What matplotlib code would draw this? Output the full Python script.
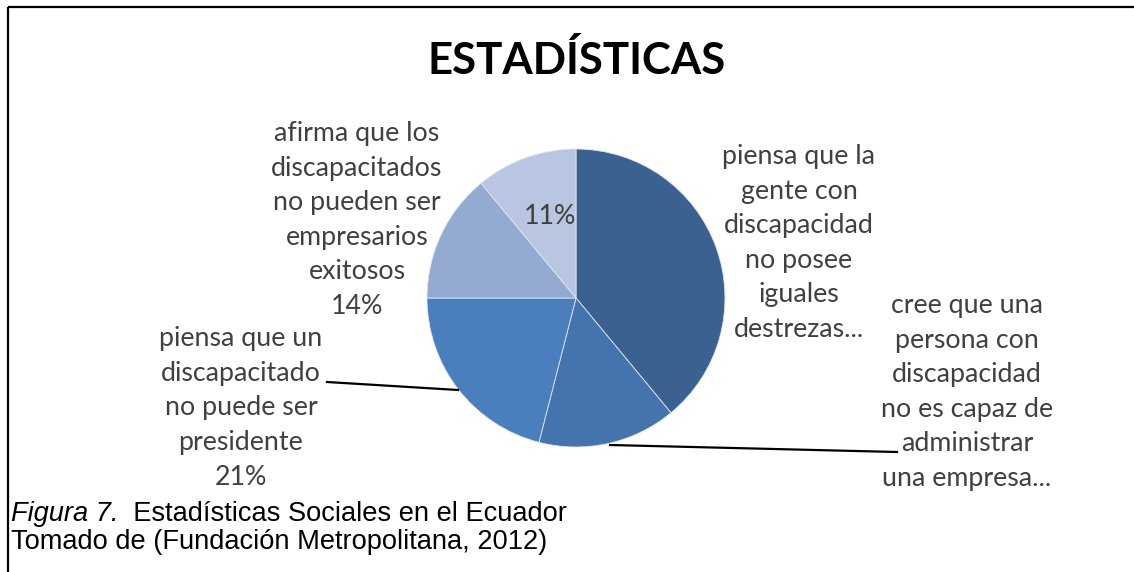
import numpy as np
import matplotlib
matplotlib.use("Agg")
import matplotlib.pyplot as plt


W, H = 1134, 572

# slices, clockwise from 12 o'clock
categorias = [
    "piensa que la\ngente con\ndiscapacidad\nno posee\niguales\ndestrezas...",
    "cree que una\npersona con\ndiscapacidad\nno es capaz de\nadministrar\nuna empresa...",
    "piensa que un\ndiscapacitado\nno puede ser\npresidente",
    "afirma que los\ndiscapacitados\nno pueden ser\nempresarios\nexitosos",
    "",
]
porcentajes = [39, 15, 21, 14, 11]
mostrar_pct = [False, False, True, True, True]
colores = ["#3b6191", "#4473ad", "#4b7ebd", "#95aad1", "#b8c6e2"]

titulo = "ESTADÍSTICAS"
pie_fig = "Figura 7."
pie_resto = "  Estadísticas Sociales en el Ecuador"
fuente = "Tomado de (Fundación Metropolitana, 2012)"


def Y(y):
    # image rows -> data y (origin at bottom)
    return H - y


fig = plt.figure(figsize=(W / 100, H / 100), dpi=100)
ax = fig.add_axes([0, 0, 1, 1])
ax.set_xlim(0, W)
ax.set_ylim(0, H)
ax.set_aspect("equal")
ax.axis("off")

ax.pie(porcentajes, colors=colores, startangle=90, counterclock=False,
       center=(576, Y(298)), radius=149,
       wedgeprops=dict(edgecolor="#dfe6f2", linewidth=0.6))
ax.set_xlim(0, W)
ax.set_ylim(0, H)

etiquetas = []
for cat, p, m in zip(categorias, porcentajes, mostrar_pct):
    txt = cat
    if m:
        txt = (txt + "\n" if txt else "") + f"{p}%"
    etiquetas.append(txt)

pos = [(799, 243), (967, 392), (241, 408), (357, 220), (550, 217)]
lab_kw = dict(family="Lato", fontsize=19.3, color="#404040", ha="center",
              va="center", multialignment="center", linespacing=1.48)
for (x, y), t in zip(pos, etiquetas):
    ax.text(x, Y(y), t, **lab_kw)

# leader lines
ax.plot([327, 458], [Y(382), Y(390)], color="black", lw=1.6)
ax.plot([610, 897], [Y(445), Y(452)], color="black", lw=1.6)

ax.text(577, Y(61), titulo, family="Lato", fontweight="bold", fontsize=31.5,
        ha="center", va="center", color="black")

# frame: top and left rules only
ax.plot([8, W], [Y(6.5), Y(6.5)], color="black", lw=1.6, solid_capstyle="butt")
ax.plot([8, 8], [Y(6.5), 0], color="black", lw=1.6, solid_capstyle="butt")

cap_kw = dict(family="Liberation Sans", fontsize=19.6, color="black")
t1 = ax.text(11, Y(521), pie_fig, style="italic", va="baseline", **cap_kw)
ax.annotate(pie_resto, xy=(1, 0), xycoords=t1, va="bottom", ha="left", **cap_kw)
ax.text(11, Y(549), fuente, va="baseline", **cap_kw)

fig.savefig("out.png", dpi=100)
